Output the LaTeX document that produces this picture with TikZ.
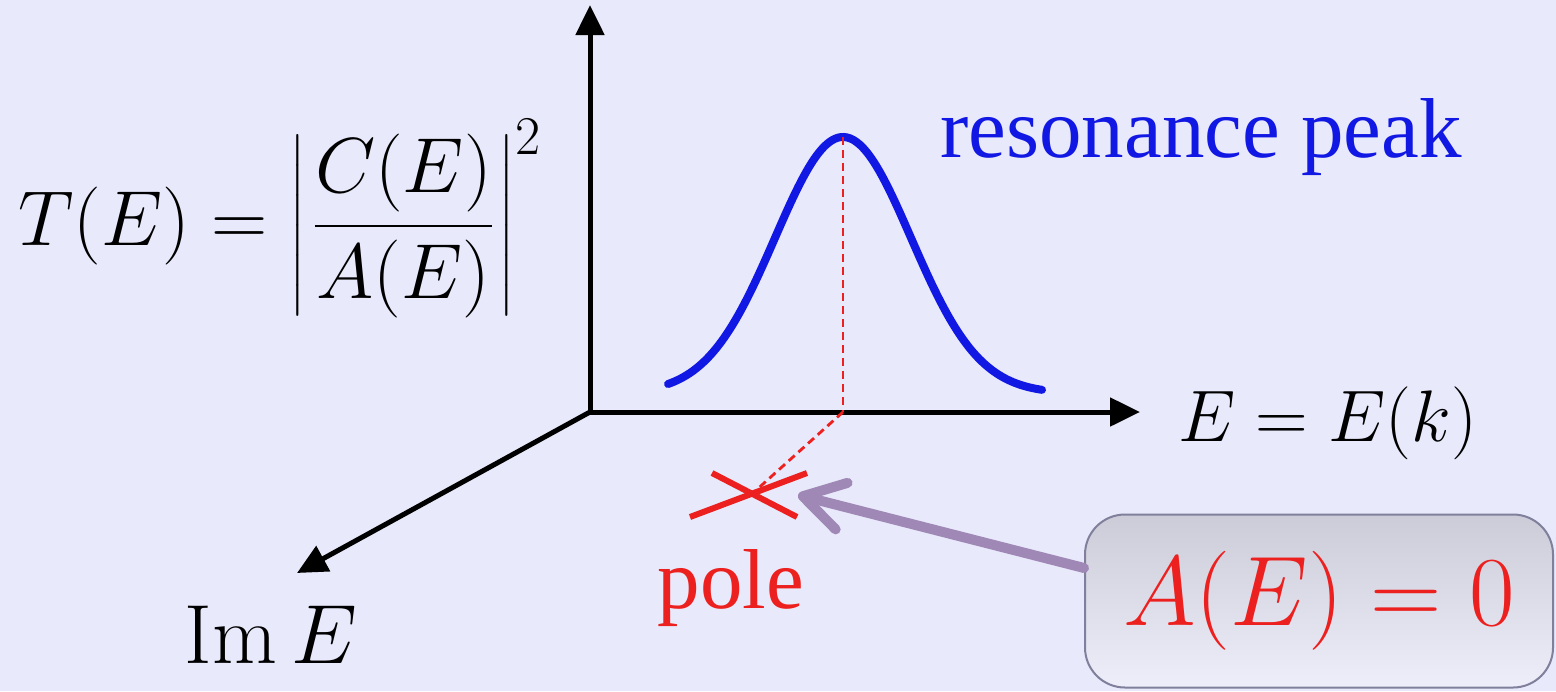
\RequirePackage{fix-cm}
\documentclass[tikz,border=0pt]{standalone}
\usepackage{fontspec}
\usepackage{amsmath}
\newfontfamily\wordfont{Liberation Serif}
\usetikzlibrary{arrows.meta}
\definecolor{slidebg}{RGB}{232,233,250}
\definecolor{peakblue}{RGB}{18,24,228}
\definecolor{polered}{RGB}{236,32,30}
\definecolor{hintpurple}{RGB}{160,136,182}
\definecolor{boxedge}{RGB}{128,128,156}
\definecolor{boxtop}{RGB}{204,204,216}
\definecolor{boxbottom}{RGB}{238,238,250}

\begin{document}
\begin{tikzpicture}[x=0.5pt,y=-0.5pt,
  axis/.style={-{Triangle[length=15pt,width=14pt]}, black, line width=2.5pt},
  guide/.style={polered, line width=1.4pt, dash pattern=on 4pt off 2.5pt},
  crossline/.style={polered, line width=3pt},
  hint/.style={-{Straight Barb[length=20pt,width=24pt,round]}, hintpurple, line width=5pt, line cap=round},
  txt/.style={inner sep=0pt}]
\fill[slidebg] (0,0) rectangle (1556,691);
\useasboundingbox (0,0) rectangle (1556,691);

\coordinate (O) at (590,412);
\coordinate (Up) at (590,5);
\coordinate (Right) at (1140,412);
\coordinate (Depth) at (297,573);

\coordinate (Peak) at (843,137);
\coordinate (Foot) at (843,412);
\coordinate (Pole) at (753,493);
\coordinate (Tip) at (798,495);

\path[axis] (O) edge (Up);
\path[axis] (O) edge (Right);
\path[axis] (O) edge (Depth);

\draw[peakblue, line width=4pt, line cap=round, domain=668:1042, samples=120, smooth]
  plot ({\x},{384-247*(exp(-((\x-843)/68)^2/2)-0.0365)/0.9635});

\path[guide] (Peak) edge (Foot);
\path[guide] (Foot) edge (Pole);

\draw[crossline] (Pole) ++(-63,24) -- ++(117,-44);
\draw[crossline] (Pole) ++(-41,-20) -- ++(85,44);

\node[txt, anchor=base west, font=\fontsize{39}{47}\selectfont] (TE) at (18,245) {$\displaystyle T(E)=\left|\mkern1.5mu\frac{C(E)}{A(E)}\mkern1mu\right|^{2}$};
\node[txt, anchor=base, peakblue, font=\wordfont\fontsize{42.5}{50}\selectfont] (res) at (1201,157) {resonance peak};
\node[txt, anchor=base west, font=\fontsize{36.5}{43}\selectfont] (EE) at (1178,441) {$E=E(k)$};
\node[txt, anchor=base, font=\fontsize{42}{49}\selectfont] (ImE) at (271,663) {$\operatorname{Im}E$};
\node[txt, anchor=base, polered, font=\wordfont\fontsize{42.5}{50}\selectfont] (pole) at (731,608) {pole};

\node[draw=boxedge, line width=1pt, rounded corners=20pt, top color=boxtop, bottom color=boxbottom,
  minimum width=234pt, minimum height=86.5pt, text=polered, font=\fontsize{49.5}{58}\selectfont] (cond) at (1319,601) {$A(E)=0$};

\path[hint] (cond.172) edge (Tip);
\end{tikzpicture}
\end{document}
